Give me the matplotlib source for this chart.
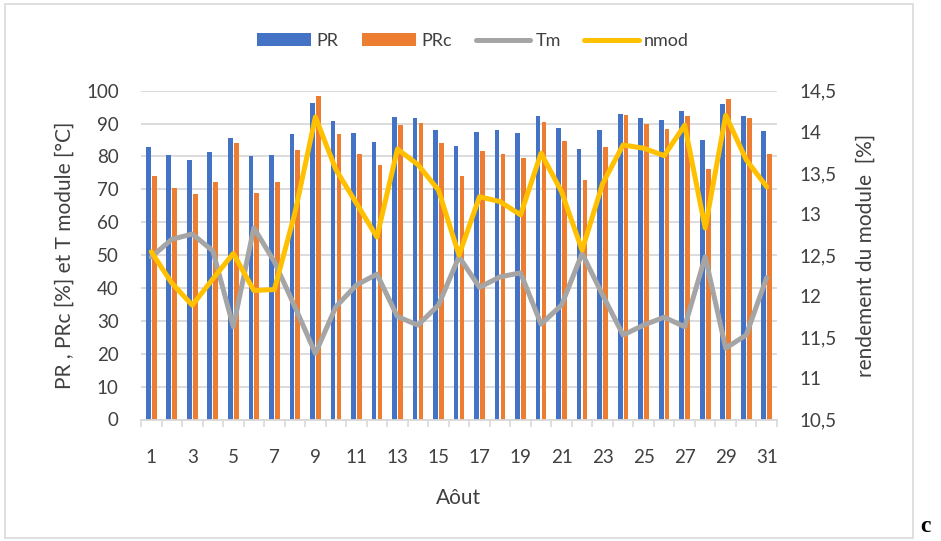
import matplotlib
matplotlib.use("Agg")
import matplotlib.pyplot as plt
import numpy as np
from matplotlib.patches import Rectangle, Patch
from matplotlib.lines import Line2D
from matplotlib.ticker import FixedLocator, FuncFormatter

plt.rcParams['font.family'] = ['Lato', 'DejaVu Sans']

days = list(range(1, 32))
pr = [82.8, 80.5, 78.9, 81.4, 85.5, 80.0, 80.4, 86.7, 96.3, 90.7, 87.0, 84.4,
      92.0, 91.6, 88.0, 83.3, 87.5, 88.0, 87.1, 92.3, 88.7, 82.2, 88.1, 92.9,
      91.8, 91.1, 93.8, 85.1, 96.0, 92.3, 87.7]
prc = [74.2, 70.5, 68.5, 72.1, 84.2, 69.0, 72.1, 82.1, 98.5, 86.9, 80.8, 77.3,
       89.6, 90.1, 84.0, 74.1, 81.6, 80.7, 79.4, 90.4, 84.7, 72.8, 82.9, 92.5,
       90.0, 88.4, 92.4, 76.1, 97.6, 91.8, 80.7]
tm = [49.4, 54.8, 56.4, 51.3, 28.2, 58.3, 48.0, 34.3, 20.1, 34.3, 40.9, 44.2,
      31.3, 28.7, 34.8, 49.5, 40.2, 43.4, 44.6, 29.0, 34.8, 50.5, 37.9, 25.7,
      28.7, 31.1, 28.2, 49.5, 21.7, 25.7, 43.2]
nmod = [12.54, 12.16, 11.89, 12.21, 12.52, 12.07, 12.08, 13.01, 14.18, 13.54,
        13.13, 12.72, 13.79, 13.60, 13.29, 12.50, 13.21, 13.15, 12.99, 13.74,
        13.27, 12.56, 13.37, 13.84, 13.80, 13.71, 14.08, 12.83, 14.20, 13.66,
        13.33]

left_ticks = list(range(0, 101, 10))
right_ticks = [10.5, 11, 11.5, 12, 12.5, 13, 13.5, 14, 14.5]

C_PR = '#4472C4'
C_PRC = '#ED7D31'
C_TM = '#A5A5A5'
C_NMOD = '#FFC000'
TXT = '#404040'
GRID = '#D9D9D9'

W, H = 941, 541
fig = plt.figure(figsize=(W / 100, H / 100), dpi=100)
fig.patch.set_facecolor('white')

# chart frame
fig.patches.append(Rectangle((5 / W, 1 - 538 / H), 908 / W, 534 / H,
                             transform=fig.transFigure, fill=False,
                             edgecolor=GRID, linewidth=1.2))

ax = fig.add_axes([141 / W, 1 - 419.5 / H, 636 / W, 328.8 / H])
x = np.array(days)
bw = 0.23
ax.bar(x - 0.145, pr, width=bw, color=C_PR, zorder=2)
ax.bar(x + 0.145, prc, width=bw, color=C_PRC, zorder=2)
ax.plot(x, tm, color=C_TM, lw=3.6, solid_capstyle='round',
        solid_joinstyle='round', zorder=3)

ax.set_xlim(0.5, 31.5)
ax.set_ylim(0, 100)
ax.set_yticks(left_ticks)
ax.yaxis.grid(True, color=GRID, lw=1.3, zorder=0)
ax.set_axisbelow(True)
for s in ['left', 'right', 'top']:
    ax.spines[s].set_visible(False)
ax.spines['bottom'].set_color(GRID)
ax.spines['bottom'].set_linewidth(1.3)

ax.set_xticks(days)
ax.set_xticklabels([str(d) if d % 2 == 1 else '' for d in days])
ax.xaxis.set_minor_locator(FixedLocator(np.arange(0.5, 32, 1)))
ax.tick_params(axis='x', which='major', length=0, pad=21, labelsize=13.5,
               labelcolor=TXT)
ax.tick_params(axis='x', which='minor', length=5, color=GRID, width=1.2)
ax.tick_params(axis='y', length=0, pad=16, labelsize=13.5, labelcolor=TXT)
ax.set_xlabel('Aôut', fontsize=15, color=TXT, labelpad=16)
ax.set_ylabel('PR , PRc [%] et T module [°C]', fontsize=15, color=TXT,
              labelpad=8)

ax2 = ax.twinx()
ax2.plot(x, nmod, color=C_NMOD, lw=3.6, solid_capstyle='round',
         solid_joinstyle='round', zorder=4)
ax2.set_ylim(10.5, 14.5)
ax2.set_yticks(right_ticks)
ax2.yaxis.set_major_formatter(
    FuncFormatter(lambda v, p: (f'{v:g}').replace('.', ',')))
for s in ['left', 'right', 'top', 'bottom']:
    ax2.spines[s].set_visible(False)
ax2.tick_params(axis='y', length=0, pad=16, labelsize=13.5, labelcolor=TXT)
ax2.set_ylabel('rendement du module  [%]', fontsize=15, color=TXT,
               labelpad=14)

handles = [Patch(facecolor=C_PR), Patch(facecolor=C_PRC),
           Line2D([], [], color=C_TM, lw=3.6, solid_capstyle='round'),
           Line2D([], [], color=C_NMOD, lw=3.6, solid_capstyle='round')]
fig.legend(handles, ['PR', 'PRc', 'Tm', 'nmod'], ncol=4,
           loc='center', bbox_to_anchor=(473 / W, 1 - 41 / H),
           frameon=False, fontsize=13, labelcolor=TXT,
           handlelength=3.0, handleheight=0.72, handletextpad=0.3,
           columnspacing=1.3)

fig.text(925 / W, 1 - 527 / H, 'c', fontsize=17, fontweight='bold',
         family='Liberation Serif', ha='center', va='center', color='black')

fig.savefig('out.png', dpi=100)
